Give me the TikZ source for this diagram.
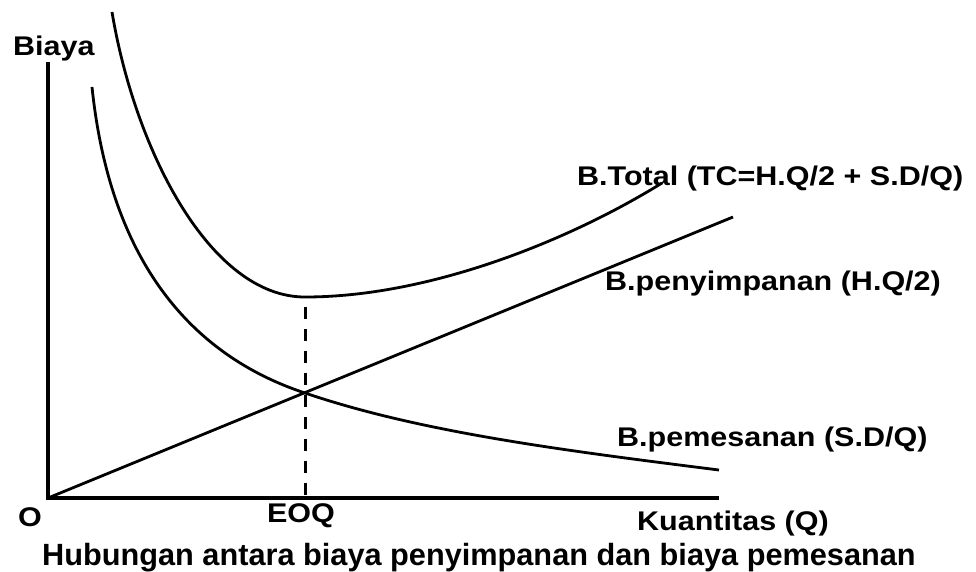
\documentclass[tikz,border=0pt]{standalone}
\usepackage{fontspec}
\setmainfont{Liberation Sans}
\newfontfamily\widesans[FakeStretch=1.13]{Liberation Sans}
\begin{document}
\begin{tikzpicture}[x=1pt,y=-1pt,
  axis/.style={line width=4.2pt, line join=miter},
  curve/.style={line width=2.8pt},
  guide/.style={line width=3pt, dash pattern=on 12pt off 10pt},
  lbl/.style={inner sep=0pt, anchor=base west,
    font=\widesans\bfseries\fontsize{27}{27}\selectfont},
  captxt/.style={inner sep=0pt, anchor=base west,
    font=\bfseries\fontsize{30.7}{30.7}\selectfont}]
\useasboundingbox (0,0) rectangle (976,571);

% axes
\coordinate (O) at (48,498);
\coordinate (ytop) at (48,62);
\coordinate (xend) at (719,498);
\draw[axis] (ytop) -- (O) -- (xend);

% holding cost (straight line through the origin)
\coordinate (hend) at (733,217);
\draw[curve] (O) -- (hend);

% ordering cost curve
\coordinate (o1) at (92,87);
\coordinate (X) at (305,393);
\coordinate (o2) at (719,470);
\draw[curve] (o1) .. controls (110,260) and (190,355) .. (X)
                  .. controls (420,432) and (560,450) .. (o2);

% total cost curve
\coordinate (t1) at (112,12);
\coordinate (tmin) at (305,297);
\coordinate (t2) at (662,183);
\draw[curve] (t1) .. controls (135,150) and (210,297) .. (tmin)
                  .. controls (430,297) and (570,240) .. (t2);

% EOQ guide
\coordinate (gtop) at (305,307);
\coordinate (gfoot) at (305,498);
\draw[guide] (gtop) -- (gfoot);

% labels
\node[lbl] (biaya) at (13,55) {Biaya};
\node[lbl, anchor=base] (orig) at (30,526) {O};
\node[lbl, anchor=base] (eoq) at (301,522) {EOQ};
\node[lbl] (qty) at (637,530) {Kuantitas (Q)};
\node[lbl] (ltot) at (577,185) {B.Total (TC=H.Q/2 + S.D/Q)};
\node[lbl] (lhold) at (605,290) {B.penyimpanan (H.Q/2)};
\node[lbl] (lord) at (617,446) {B.pemesanan (S.D/Q)};
\node[captxt] (caption) at (42,565) {Hubungan antara biaya penyimpanan dan biaya pemesanan};
\end{tikzpicture}
\end{document}
